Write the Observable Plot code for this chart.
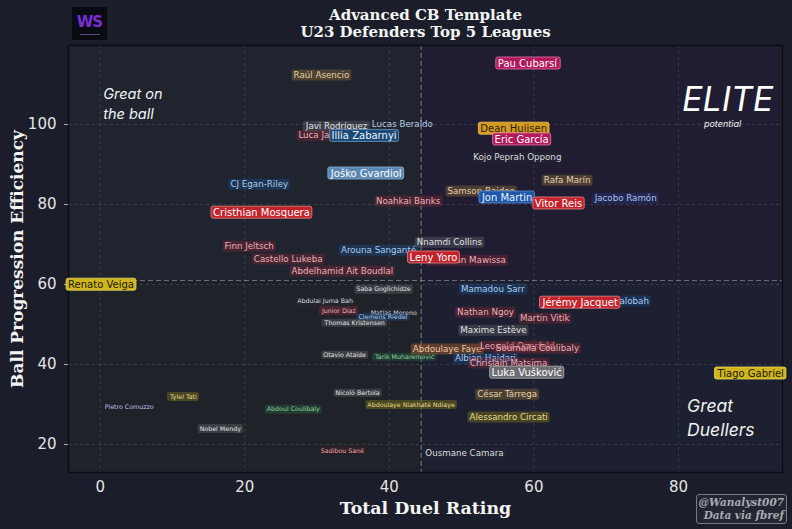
<!DOCTYPE html>
<html><head><meta charset="utf-8">
<script src="https://cdn.jsdelivr.net/npm/d3@7"></script>
<script src="https://cdn.jsdelivr.net/npm/@observablehq/plot@0.6"></script>
<style>
html,body{margin:0;padding:0;background:#1b1e2a;}
#wrap{position:relative;width:792px;height:529px;overflow:hidden;background:#1b1e2a;}
#logo{position:absolute;left:72px;top:7px;width:35px;height:33px;background:#0a0a12;text-align:center;}
#logo b{display:block;font:bold 15px "DejaVu Sans";color:#7a2ed6;margin-top:6px;letter-spacing:-1px;}
#logo i{display:block;width:20px;height:1px;margin:3px auto 0;background:#5a4a80;}
#wm{position:absolute;right:5px;top:494px;border:1px solid #767a85;border-radius:3px;white-space:nowrap;
 background:rgba(255,255,255,0.04);font:italic bold 10.5px "DejaVu Serif";color:#a9abb2;text-align:right;line-height:13px;padding:1px 2px 1px 2px;}
</style></head><body><div id="wrap"><div id="logo"><b>WS</b><i></i></div></div>
<script>
// ---- data ----
const players = ["Raúl Asencio","Pau Cubarsí","Lucas Beraldo","Javi Rodríguez","Luca Jaquez","Illia Zabarnyi","Joško Gvardiol","CJ Egan-Riley","Noahkai Banks","Cristhian Mosquera","Dean Huijsen","Eric García","Kojo Peprah Oppong","Rafa Marín","Samson Baidoo","Jon Martin","Vitor Reis","Jacobo Ramón","Finn Jeltsch","Arouna Sanganté","Castello Lukeba","Abdelhamid Ait Boudlal","Nnamdi Collins","Leny Yoro","Christian Mawissa","Renato Veiga","Saba Goglichidze","Abdulai Juma Bah","Junior Diaz","Matías Moreno","Clemens Riedel","Thomas Kristensen","Otavio Ataide","Tarik Muharemović","Mamadou Sarr","Jérémy Jacquet","Trevoh Chalobah","Nathan Ngoy","Martin Vitík","Maxime Estève","Abdoulaye Faye","Leopold Querfeld","Soumaïla Coulibaly","Albian Hajdari","Chrislain Matsima","Luka Vušković","Tiago Gabriel","César Tárrega","Alessandro Circati","Ousmane Camara","Nicolò Bertola","Abdoulaye Niakhaté Ndiaye","Tylel Tati","Pietro Comuzzo","Abdoul Coulibaly","Nobel Mendy","Sadibou Sané"];
const duelRating = [30.6,59.1,41.8,32.7,31.0,36.5,36.8,22.0,42.6,22.3,57.2,58.3,57.7,64.6,52.7,56.3,63.4,72.7,20.6,38.5,26.0,33.5,48.3,46.1,50.7,0.1,39.2,31.1,33.0,40.6,39.1,35.2,33.8,42.1,54.3,66.4,70.9,53.3,61.5,54.4,48.0,57.7,60.5,53.3,56.5,59.0,90.0,56.3,56.5,50.4,35.6,43.0,11.5,4.0,26.7,16.6,33.5];
const progEfficiency = [112.3,115.3,100.0,99.5,97.2,97.2,87.8,85.0,80.8,78.0,99.0,96.3,91.8,86.0,83.3,81.8,80.3,81.5,69.5,68.5,66.3,63.3,70.5,66.8,66.0,60.0,58.8,55.8,53.5,53.0,51.8,50.3,42.3,41.8,58.8,55.5,55.8,53.0,51.5,48.5,43.8,44.5,44.0,41.5,40.3,38.0,37.8,32.5,26.8,17.8,32.8,30.0,32.0,29.5,28.8,24.0,18.5];
const tier = [2,1,2,2,2,1,1,2,2,1,1,1,2,2,2,1,1,2,2,2,2,2,2,1,2,1,3,3,3,3,3,3,3,3,2,1,2,2,2,2,2,2,2,2,2,1,1,2,2,2,3,3,3,3,3,3,3];
const tone = ["brown","magenta","plainblue","gray","dimred","blue","steel","dimblue","dimred","red","gold","magenta","plain","brown","brown","blue2","red","navy","dimred","dimblue","dimred","dimred","gray","red","dimred","yellow","gray","plain","dimred","plain","dimblue","gray","gray","green","dimblue","red","dimblue","dimred","dimred","gray","orange","dimred","dimred","dimblue","dimred","silver","yellow","brown","olive","plain","gray","olive","olive","plainlav","green","gray","plainred"];
const xTicks = [0,20,40,60,80];
const yTicks = [20,40,60,80,100];
const meanDuel = 44.4, meanProg = 61;
const xDomain = [-4.4, 94.4], yDomain = [13, 119.75];
const titleLines = ["Advanced CB Template","U23 Defenders Top 5 Leagues"];
const xLabel = "Total Duel Rating", yLabel = "Ball Progression Efficiency";

// ---- styles ----
const tones = {
  red:{bg:"#c3222b",fg:"#ffffff",bd:"#e98585"},
  magenta:{bg:"#b2185a",fg:"#ffffff",bd:"#e27aa9"},
  gold:{bg:"#d49b1c",fg:"#2a1c00",bd:"#f0c460"},
  yellow:{bg:"#cfb51b",fg:"#1d1a00",bd:"#eadb62"},
  blue:{bg:"#1c4a74",fg:"#eaf3ff",bd:"#6fa0cc"},
  blue2:{bg:"#1f58a8",fg:"#e8f0ff",bd:"#5d8fd8"},
  steel:{bg:"#5a86b2",fg:"#ffffff",bd:"#8fb4d8"},
  silver:{bg:"#6b6d70",fg:"#ffffff",bd:"#b0b0b0"},
  brown:{bg:"rgba(120,95,55,0.5)",fg:"#e6d0a8"},
  orange:{bg:"rgba(145,85,45,0.55)",fg:"#f2c9a0"},
  olive:{bg:"rgba(105,100,35,0.55)",fg:"#e8dc80"},
  dimred:{bg:"rgba(125,40,55,0.42)",fg:"#eeb0b8"},
  dimblue:{bg:"rgba(30,75,130,0.42)",fg:"#a8cdef"},
  navy:{bg:"rgba(35,50,110,0.5)",fg:"#a8c0ee"},
  gray:{bg:"rgba(95,98,105,0.42)",fg:"#e2e2e2"},
  green:{bg:"rgba(35,85,55,0.5)",fg:"#92d2a2"},
  plain:{bg:"rgba(40,44,55,0.35)",fg:"#dcdcdc"},
  plainblue:{bg:null,fg:"#bcd0e6"},
  plainlav:{bg:null,fg:"#cbbfe6"},
  plainred:{bg:"rgba(80,30,40,0.3)",fg:"#eba0a8"}
};
const tierSize = {1:10, 2:8.7, 3:6.3};

const rows = players.map((name,i)=>({name, duel:duelRating[i], prog:progEfficiency[i], tier:tier[i], tone:tone[i]}))
  .sort((a,b)=>b.tier-a.tier);

const quads = [
  {x1:xDomain[0],x2:meanDuel,y1:meanProg,y2:yDomain[1],c:"#1f242f"},
  {x1:meanDuel,x2:xDomain[1],y1:meanProg,y2:yDomain[1],c:"#201c32"},
  {x1:xDomain[0],x2:meanDuel,y1:yDomain[0],y2:meanProg,c:"#1f2329"},
  {x1:meanDuel,x2:xDomain[1],y1:yDomain[0],y2:meanProg,c:"#1c2030"}
];
const ann = "Inter, 'Noto Sans', sans-serif";
const serifBold = {fontWeight:"bold",fontFamily:"DejaVu Serif",fill:"#f4f4f4",lineAnchor:"middle",textAnchor:"middle"};

const chart = Plot.plot({
  width:792, height:529,
  marginLeft:68, marginRight:10, marginTop:45, marginBottom:57,
  style:{background:"transparent", color:"#e6e6e6", fontFamily:"DejaVu Sans"},
  color:{type:"identity"},
  x:{domain:xDomain, label:null},
  y:{domain:yDomain, label:null},
  marks:[
    Plot.rect(quads,{x1:"x1",x2:"x2",y1:"y1",y2:"y2",fill:"c"}),
    Plot.gridX(xTicks,{stroke:"#ffffff",strokeOpacity:0.12,strokeDasharray:"3,3"}),
    Plot.gridY(yTicks,{stroke:"#ffffff",strokeOpacity:0.12,strokeDasharray:"3,3"}),
    Plot.ruleX([meanDuel],{stroke:"#c9c9c9",strokeOpacity:0.45,strokeDasharray:"5,3",strokeWidth:1.2}),
    Plot.ruleY([meanProg],{stroke:"#c9c9c9",strokeOpacity:0.45,strokeDasharray:"5,3",strokeWidth:1.2}),
    Plot.frame({stroke:"#0c0d12",strokeWidth:1.5}),
    Plot.axisX(xTicks,{tickSize:0,tickPadding:9,fontSize:15,fill:"#e4e4e4",label:null}),
    Plot.axisY(yTicks,{tickSize:4,tickPadding:8,fontSize:15,fill:"#e4e4e4",stroke:"#aaaaaa",label:null}),
    Plot.text(["Great on\nthe ball"],{x:0.4,y:105.4,textAnchor:"start",fontSize:14.5,fontStyle:"italic",fontFamily:ann,fill:"#f2f2f2",lineHeight:1.33}),
    Plot.text(["ELITE"],{x:86.8,y:106,fontSize:34,fontStyle:"italic",fontWeight:400,fontFamily:ann,fill:"#ffffff"}),
    Plot.text(["potential"],{x:86.1,y:100,fontSize:9,fontStyle:"italic",fontFamily:ann,fill:"#f0f0f0"}),
    Plot.text(["Great\nDuellers"],{x:81.2,y:27,textAnchor:"start",fontSize:17.5,fontStyle:"italic",fontFamily:ann,fill:"#f2f2f2",lineHeight:1.38}),
    Plot.text(rows,{x:"duel",y:"prog",text:"name",fill:d=>tones[d.tone].fg,fontSize:d=>tierSize[d.tier],fontFamily:"DejaVu Sans",className:"plabels"}),
    Plot.text([titleLines[0]],{frameAnchor:"top",dy:-30,fontSize:15,...serifBold}),
    Plot.text([titleLines[1]],{frameAnchor:"top",dy:-13,fontSize:15,...serifBold}),
    Plot.text([xLabel],{frameAnchor:"bottom",dy:36,fontSize:17.4,...serifBold}),
    Plot.text([yLabel],{frameAnchor:"left",dx:-51,rotate:-90,fontSize:17,...serifBold})
  ]
});
const wrap = document.getElementById("wrap");
wrap.insertBefore(chart, wrap.firstChild);
chart.style.position="absolute"; chart.style.left="0"; chart.style.top="0";
const wm = document.createElement("div"); wm.id="wm"; wm.innerHTML="@Wanalyst007<br>Data via fbref"; wrap.appendChild(wm);

// label boxes
const ns="http://www.w3.org/2000/svg";
const nameSet = new Set(players);
let g = chart.querySelector("g.plabels");
if (!g) {
  g = Array.from(chart.querySelectorAll("g")).find(gg => {
    const ts = Array.from(gg.children).filter(c=>c.tagName==="text");
    return ts.length === rows.length && ts.every(t=>nameSet.has(t.textContent));
  });
}
if (g) {
  const texts = Array.from(g.children).filter(c=>c.tagName==="text");
  texts.forEach((t,k)=>{
    const i = (typeof t.__data__ === "number") ? t.__data__ : k;
    const st = tones[rows[i].tone];
    if (!st.bg) return;
    const b = t.getBBox();
    const r = document.createElementNS(ns,"rect");
    r.setAttribute("x", b.x-2); r.setAttribute("y", b.y-0.5);
    r.setAttribute("width", b.width+4); r.setAttribute("height", b.height+1);
    r.setAttribute("rx", 2);
    r.setAttribute("fill", st.bg);
    if (st.bd) { r.setAttribute("stroke", st.bd); r.setAttribute("stroke-width", 0.8); }
    const tr = t.getAttribute("transform"); if (tr) r.setAttribute("transform", tr);
    g.insertBefore(r, t);
  });
}
</script></body></html>
